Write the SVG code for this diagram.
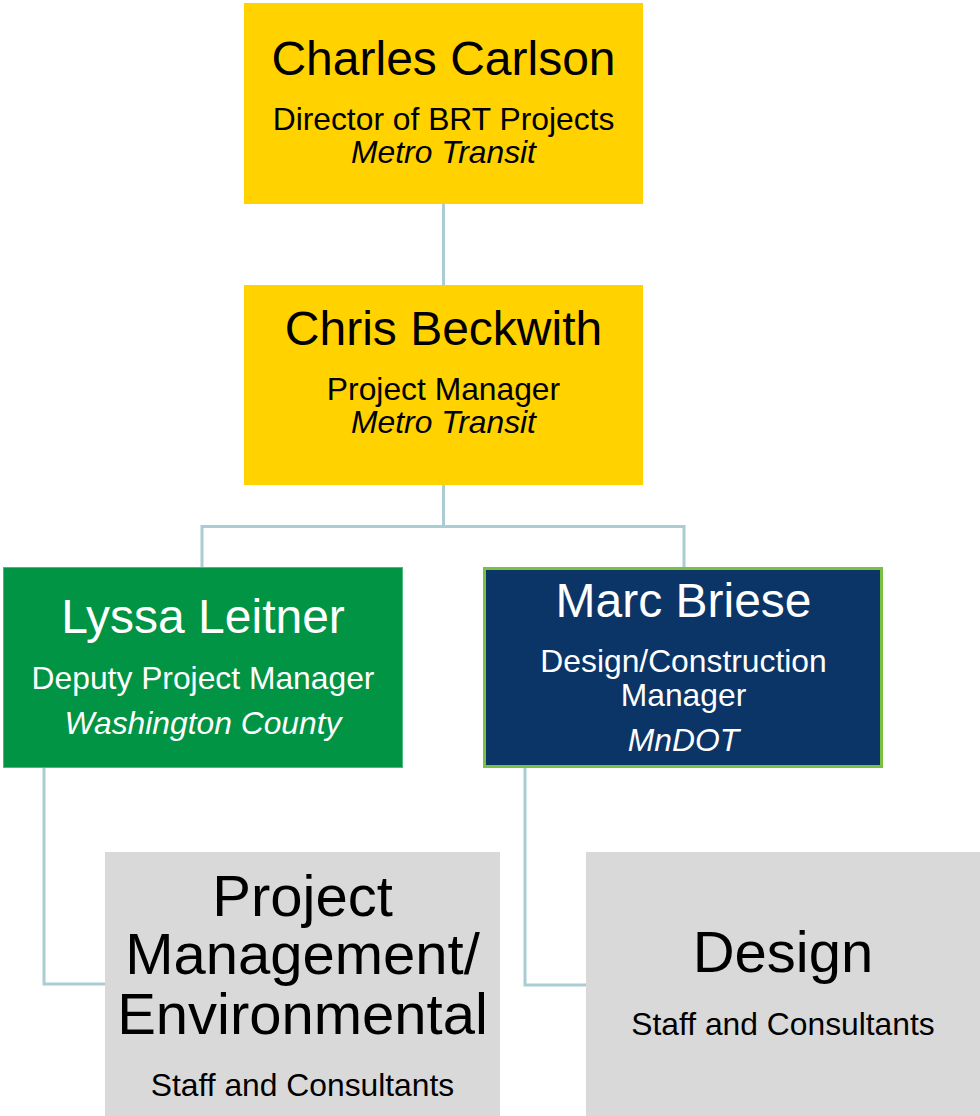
<svg xmlns="http://www.w3.org/2000/svg" width="980" height="1116" viewBox="0 0 980 1116">
<style>
text{font-family:"Liberation Sans",Arial,sans-serif;text-anchor:middle}
.n{font-size:48px}
.s{font-size:31.8px}
.i{font-size:31.8px;font-style:italic}
.b{font-size:58px}
.k{fill:#000}
.w{fill:#fff}
.con{fill:none;stroke:#A9CDD2;stroke-width:3}
</style>
<rect width="980" height="1116" fill="#fff"/>
<g id="connectors">
<path class="con" d="M443.5 204V285"/>
<path class="con" d="M443.5 485V526.5M202 526.5H684M202 525V567M684 525V567"/>
<path class="con" d="M44 768V984H105"/>
<path class="con" d="M525 768V985H586"/>
</g>
<g id="charles">
<rect x="244" y="3" width="399" height="201" fill="#FFD200"/>
<text class="n k" x="443.5" y="75">Charles Carlson</text>
<text class="s k" x="443.5" y="130">Director of BRT Projects</text>
<text class="i k" x="443.5" y="163">Metro Transit</text>
</g>
<g id="chris">
<rect x="244" y="285" width="399" height="200" fill="#FFD200"/>
<text class="n k" x="443.5" y="345">Chris Beckwith</text>
<text class="s k" x="443.5" y="400">Project Manager</text>
<text class="i k" x="443.5" y="433">Metro Transit</text>
</g>
<g id="lyssa">
<rect x="3.5" y="567.5" width="399" height="200" fill="#009444" stroke="#4DB87C" stroke-width="1"/>
<text class="n w" x="203" y="633">Lyssa Leitner</text>
<text class="s w" x="203" y="689">Deputy Project Manager</text>
<text class="i w" x="203" y="734">Washington County</text>
</g>
<g id="marc">
<rect x="484.5" y="568.5" width="397" height="198" fill="#0B3567" stroke="#7AC143" stroke-width="3"/>
<text class="n w" x="683.5" y="617">Marc Briese</text>
<text class="s w" x="683.5" y="672">Design/Construction</text>
<text class="s w" x="683.5" y="706">Manager</text>
<text class="i w" x="683.5" y="751">MnDOT</text>
</g>
<g id="pm-env">
<rect x="105" y="852" width="395" height="264" fill="#D9D9D9"/>
<text class="b k" x="302.5" y="916">Project</text>
<text class="b k" x="302.5" y="974">Management/</text>
<text class="b k" x="302.5" y="1034">Environmental</text>
<text class="s k" x="302.5" y="1096">Staff and Consultants</text>
</g>
<g id="design">
<rect x="586" y="852" width="394" height="264" fill="#D9D9D9"/>
<text class="b k" x="783" y="972">Design</text>
<text class="s k" x="783" y="1035">Staff and Consultants</text>
</g>
</svg>
